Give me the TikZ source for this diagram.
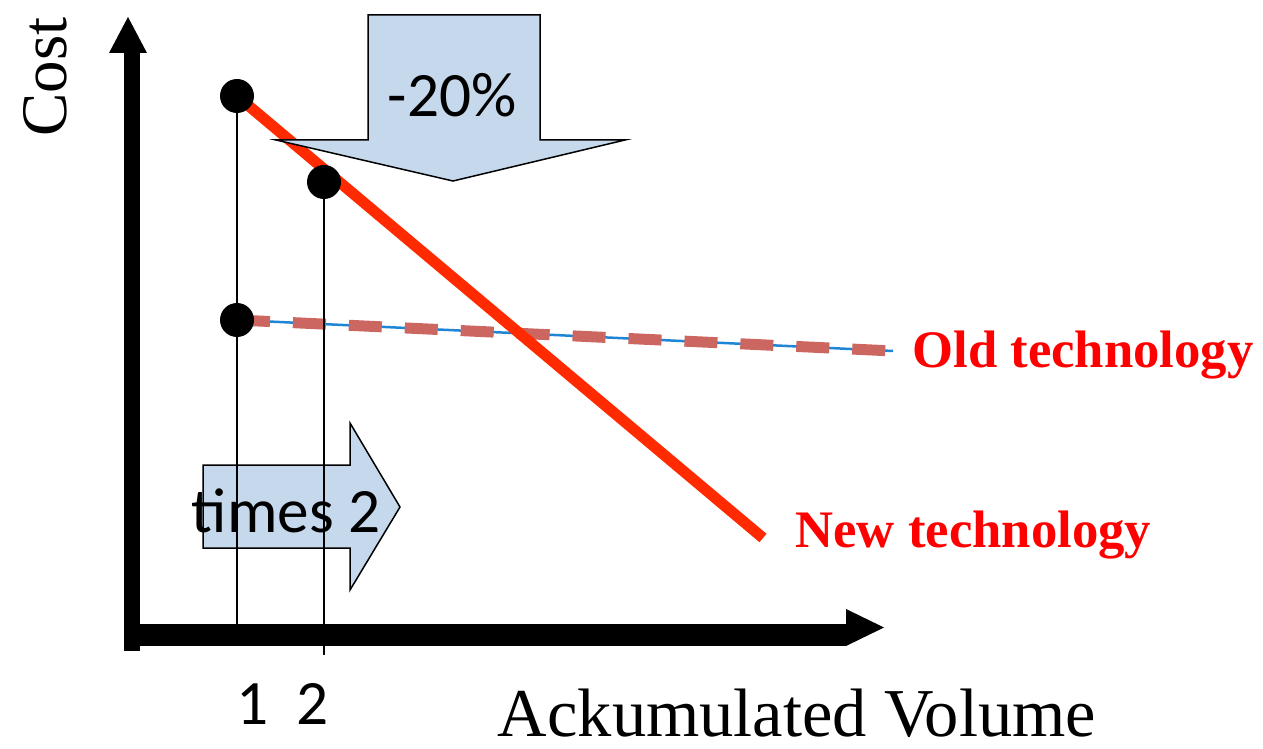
\documentclass[tikz,border=0pt]{standalone}
\usepackage{fontspec}
\setmainfont{Liberation Serif}
\newfontfamily\labelsans{Carlito}

\definecolor{newred}{HTML}{FF2A00}
\definecolor{oldblue}{HTML}{1F86D6}
\definecolor{olddash}{HTML}{CC6660}
\definecolor{blockfill}{HTML}{C6D9EC}
\definecolor{labelred}{HTML}{FF0000}

\begin{document}
\begin{tikzpicture}[x=0.02cm, y=-0.02cm,
  guide/.style={line width=0.03cm, black},
  dotmark/.style={circle, fill=black, inner sep=0pt, minimum size=0.68cm},
  newline/.style={line width=0.22cm, newred},
  oldline/.style={line width=0.05cm, oldblue},
  olddashes/.style={line width=0.22cm, olddash, dash pattern=on 0.66cm off 0.46cm},
  block/.style={fill=blockfill, draw=black, line width=0.03cm, line join=miter},
  sanslabel/.style={font=\labelsans\fontsize{36}{40}\selectfont, inner sep=0pt},
  techlabel/.style={font=\bfseries\fontsize{30}{34}\selectfont, text=labelred, inner sep=0pt, anchor=west}
]
\useasboundingbox (0,0) rectangle (1263,749);

% points on the curves
\coordinate (a1) at (237,96);
\coordinate (a2) at (324,182);
\coordinate (b1) at (237,320);
\coordinate (newend) at (763,538);
\coordinate (oldend) at (893,351);
\coordinate (foot1) at (237,630);
\coordinate (foot2) at (324,655);

% axes: heavy bars with solid triangular heads
\fill (124,53) rectangle (140,651);
\fill (109,53) -- (128,17) -- (147,53) -- cycle;
\fill (124,624) rectangle (846,646);
\fill (846,609) -- (884,627.5) -- (846,646) -- cycle;

% old technology: thin line with a heavy dashed overlay
\draw[oldline] (b1) -- (oldend);
\draw[olddashes] (b1) -- (oldend);

% new technology
\draw[newline] (a1) -- (newend);

% block arrows
\draw[block] (368,15) -- (540,15) -- (540,140) -- (625,140) -- (453,181)
  -- (276,140) -- (368,140) -- cycle;
\draw[block] (203,465) -- (350,465) -- (350,423) -- (400,507) -- (350,590)
  -- (350,548) -- (203,548) -- cycle;

% guide lines down to the volume axis
\draw[guide] (a1) -- (foot1);
\draw[guide] (a2) -- (foot2);

% data points
\node[dotmark] (p1) at (a1) {};
\node[dotmark] (p2) at (a2) {};
\node[dotmark] (p3) at (b1) {};

% labels
\node[sanslabel, anchor=base] (drop) at (452,117) {-20\%};
\node[sanslabel, anchor=base] (double) at (286,532) {times 2};
\node[sanslabel, anchor=base] (one) at (253,724) {1};
\node[sanslabel, anchor=base] (two) at (313,724) {2};
\node[font=\fontsize{39}{44}\selectfont, inner sep=0pt, anchor=base] (xlab) at (797,736) {Ackumulated Volume};
\node[font=\fontsize{37}{42}\selectfont, inner sep=0pt, anchor=base, rotate=90] (ylab) at (66,77) {Cost};
\node[techlabel] (oldlab) at (912,355) {Old technology};
\node[techlabel] (newlab) at (795,535) {New technology};
\end{tikzpicture}
\end{document}
